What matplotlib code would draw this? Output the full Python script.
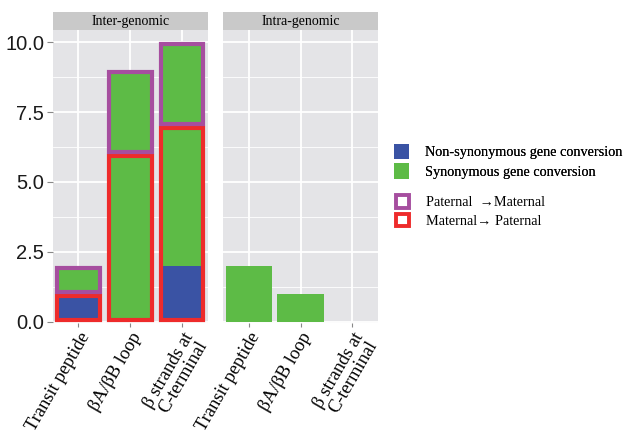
import numpy as np
import matplotlib.pyplot as plt
from matplotlib.patches import Patch

categories = ['Transit peptide', 'βA/βB loop', 'β strands at\nC-terminal']

# inter-genomic, maternal -> paternal
inter_mp_nonsyn = [1, 0, 2]
inter_mp_syn = [0, 6, 5]
# inter-genomic, paternal -> maternal
inter_pm_syn = [1, 3, 3]
# intra-genomic
intra_syn = [2, 1, 0]

yticks = [0.0, 2.5, 5.0, 7.5, 10.0]
ytick_labels = ['0.0', '2.5', '5.0', '7.5', '10.0']

blue = '#3A53A4'
green = '#5DBB46'
purple = '#A64E9F'
red = '#EE2B2B'
panel_bg = '#E4E4E7'
strip_bg = '#C9C9C9'

serif = ['Liberation Serif', 'DejaVu Serif']

fig = plt.figure(figsize=(6.25, 4.37), dpi=100)

px_w, px_h = 625, 437
def box(x0, y0, x1, y1):
    return [x0 / px_w, 1 - y1 / px_h, (x1 - x0) / px_w, (y1 - y0) / px_h]

ax1 = fig.add_axes(box(52.5, 29.5, 208, 323))
ax2 = fig.add_axes(box(223, 29.5, 378, 323))
s1 = fig.add_axes(box(52.5, 12, 208, 29.5))
s2 = fig.add_axes(box(223, 12, 378, 29.5))

x = np.arange(len(categories))
w = 0.9

for ax in (ax1, ax2):
    ax.set_facecolor(panel_bg)
    ax.set_xlim(-0.5, 2.5)
    ax.set_ylim(-0.04, 10.45)
    ax.set_yticks(yticks)
    ax.set_yticks([1.25, 3.75, 6.25, 8.75], minor=True)
    ax.set_xticks(x)
    ax.grid(True, which='major', color='white', linewidth=1.3)
    ax.grid(True, which='minor', axis='y', color='white', linewidth=0.6)
    ax.set_axisbelow(True)
    for sp in ax.spines.values():
        sp.set_visible(False)
    ax.tick_params(axis='both', which='minor', length=0)
    ax.tick_params(axis='x', length=3, color='#888888', pad=2)
    ax.set_xticklabels(categories, rotation=60, ha='right', va='top',
                       rotation_mode='anchor', family=serif, fontsize=13.3,
                       multialignment='right', linespacing=0.95)

ax1.tick_params(axis='y', length=4, color='#888888', labelsize=14.5, pad=2)
ax1.set_yticklabels(ytick_labels, family=['Liberation Sans', 'DejaVu Sans'],
                    color='#1A1A1A')
ax2.tick_params(axis='y', length=0, labelleft=False)

# inter-genomic fills
mp_nonsyn = np.array(inter_mp_nonsyn)
mp_syn = np.array(inter_mp_syn)
pm_syn = np.array(inter_pm_syn)
ax1.bar(x, mp_nonsyn, w, color=blue, linewidth=0)
ax1.bar(x, mp_syn, w, bottom=mp_nonsyn, color=green, linewidth=0)
ax1.bar(x, pm_syn, w, bottom=mp_nonsyn + mp_syn, color=green, linewidth=0)

# direction outlines, drawn inside each stacked group
dy, dx = 0.07, 0.04
mp_tot = mp_nonsyn + mp_syn
ax1.bar(x, mp_tot - 2 * dy, w - 2 * dx, bottom=dy, fill=False,
        edgecolor=red, linewidth=3, clip_on=False)
ax1.bar(x, pm_syn - 2 * dy, w - 2 * dx, bottom=mp_tot + dy, fill=False,
        edgecolor=purple, linewidth=3, clip_on=False)

# intra-genomic
ax2.bar(x, intra_syn, w, color=green, linewidth=0)

for s, title in ((s1, 'Inter-genomic'), (s2, 'Intra-genomic')):
    s.set_facecolor(strip_bg)
    s.set_xticks([])
    s.set_yticks([])
    for sp in s.spines.values():
        sp.set_visible(False)
    s.text(0.5, 0.45, title, ha='center', va='center', family=serif,
           fontsize=10, transform=s.transAxes)

fill_handles = [Patch(facecolor=blue, edgecolor='none'),
                Patch(facecolor=green, edgecolor='none')]
leg1 = fig.legend(fill_handles,
                  ['Non-synonymous gene conversion', 'Synonymous gene conversion'],
                  loc='upper left', bbox_to_anchor=(394 / px_w, 1 - 144 / px_h),
                  frameon=False, prop={'family': serif, 'size': 10.3},
                  handlelength=1.05, handleheight=1.25, labelspacing=0.28,
                  handletextpad=1.1, borderaxespad=0, borderpad=0)
fig.add_artist(leg1)
dir_handles = [Patch(facecolor='white', edgecolor=purple, linewidth=2.8),
               Patch(facecolor='white', edgecolor=red, linewidth=2.8)]
fig.legend(dir_handles, ['Paternal  \u2192Maternal', 'Maternal\u2192 Paternal'],
           loc='upper left', bbox_to_anchor=(396 / px_w, 1 - 195 / px_h),
           frameon=False, prop={'family': serif, 'size': 10.3},
           handlelength=0.9, handleheight=1.0, labelspacing=0.3,
           handletextpad=1.2, borderaxespad=0, borderpad=0)

fig.savefig('out.png', dpi=100)
